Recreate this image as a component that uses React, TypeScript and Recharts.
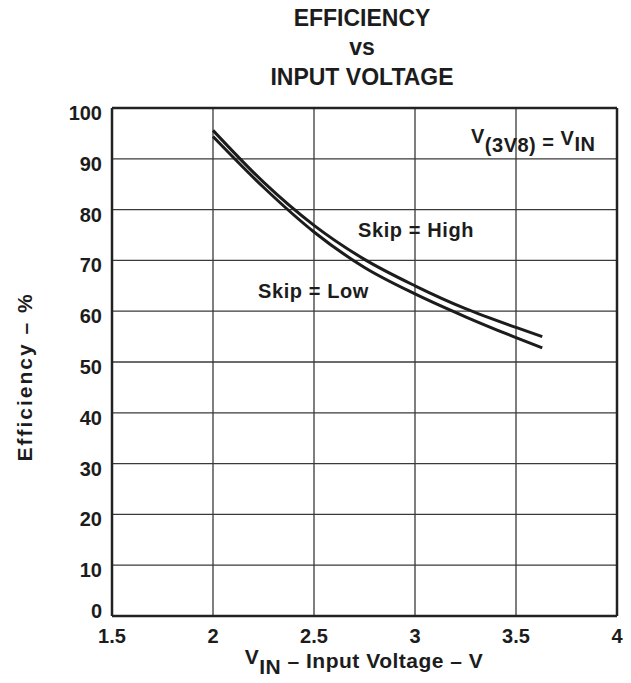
import { LineChart, Line, XAxis, YAxis, CartesianGrid, ReferenceLine } from "recharts"

// input voltage (V) sampled along the curves
const vin = [2, 2.25, 2.5, 2.75, 3, 3.25, 3.5, 3.63]
// efficiency (%)
const skipHigh = [95.6, 85.4, 76.9, 70.2, 65.0, 60.5, 56.8, 55.0]
const skipLow = [94.4, 84.4, 75.6, 68.6, 63.4, 58.9, 54.8, 52.8]

const xTicks = [1.5, 2, 2.5, 3, 3.5, 4]
const yTicks = [0, 10, 20, 30, 40, 50, 60, 70, 80, 90, 100]

const data = vin.map((v, i) => ({ v, high: skipHigh[i], low: skipLow[i] }))

const font = "'Liberation Sans', Arial, Helvetica, sans-serif"
const ink = "#1c1c1c"

function YTick({ x, y, payload }: any) {
  // the 0 label sits a little above the axis so it clears 1.5
  const dy = payload.value === 0 ? 2 : 12
  return (
    <text x={x - 10} y={y + dy} textAnchor="end" fontFamily={font} fontWeight="bold" fontSize={20} fill={ink}>
      {payload.value}
    </text>
  )
}

function XTick({ x, y, payload }: any) {
  return (
    <text x={x} y={y + 27} textAnchor="middle" fontFamily={font} fontWeight="bold" fontSize={20} fill={ink}>
      {payload.value}
    </text>
  )
}

export default function App() {
  return (
    <div style={{ position: "absolute", left: 0, top: 0, width: 631, height: 683, background: "#fff" }}>
      <LineChart width={631} height={683} data={data} margin={{ top: 108, right: 14, bottom: 0, left: 0 }}>
        <CartesianGrid stroke="#3a3a3a" strokeWidth={1.3} />
        <XAxis
          dataKey="v"
          type="number"
          domain={[1.5, 4]}
          ticks={xTicks}
          height={67}
          tickSize={0}
          tickMargin={0}
          tick={<XTick />}
          axisLine={{ stroke: "#222", strokeWidth: 2.5 }}
        />
        <YAxis
          type="number"
          domain={[0, 100]}
          ticks={yTicks}
          width={112}
          tickSize={0}
          tickMargin={0}
          tick={<YTick />}
          axisLine={{ stroke: "#222", strokeWidth: 2.5 }}
        />
        <ReferenceLine y={100} stroke="#222" strokeWidth={2.5} />
        <ReferenceLine x={4} stroke="#222" strokeWidth={2.5} />
        <Line dataKey="high" type="monotone" stroke={ink} strokeWidth={3} dot={false} isAnimationActive={false} />
        <Line dataKey="low" type="monotone" stroke={ink} strokeWidth={3} dot={false} isAnimationActive={false} />
      </LineChart>
      <svg width={631} height={683} style={{ position: "absolute", left: 0, top: 0, pointerEvents: "none" }}>
        <g fontFamily={font} fontWeight="bold" fill={ink}>
          <text x={362} y={26} textAnchor="middle" fontSize={23}>EFFICIENCY</text>
          <text x={362} y={55} textAnchor="middle" fontSize={23}>vs</text>
          <text x={362} y={85} textAnchor="middle" fontSize={23}>INPUT VOLTAGE</text>

          <text x={471} y={143} fontSize={20} letterSpacing={0.5}>
            V<tspan dy={9}>(3V8)</tspan><tspan dy={-3}> = </tspan><tspan dy={-4}>V</tspan><tspan dy={6}>IN</tspan>
          </text>
          <text x={358} y={237} fontSize={20} letterSpacing={0.6}>Skip = High</text>
          <text x={258} y={298} fontSize={20} letterSpacing={0.6}>Skip = Low</text>

          <text x={364} y={664} textAnchor="middle" fontSize={21} letterSpacing={0.5}>
            V<tspan dy={10}>IN</tspan><tspan dy={-6}> – Input Voltage – V</tspan>
          </text>
          <text transform="translate(32,377) rotate(-90)" textAnchor="middle" fontSize={21} letterSpacing={2}>
            Efficiency – %
          </text>
        </g>
      </svg>
    </div>
  )
}
